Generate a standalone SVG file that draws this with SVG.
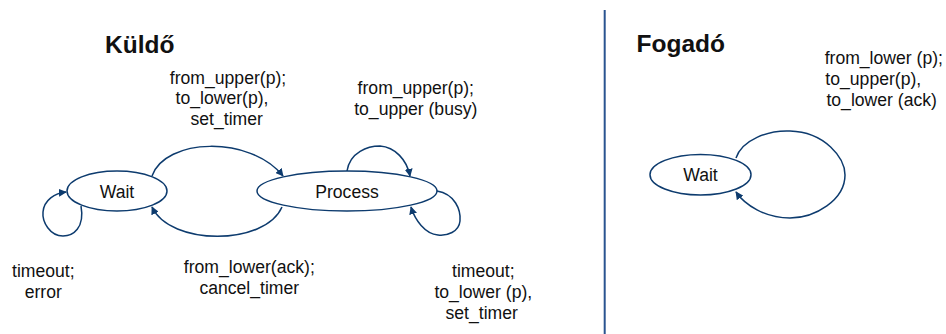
<svg xmlns="http://www.w3.org/2000/svg" width="946" height="334" viewBox="0 0 946 334">
<defs>
<style>
text{font-family:"Liberation Sans",Arial,sans-serif;fill:#111;}
.lbl{font-size:17.6px;text-anchor:middle;}
.title{font-size:24.5px;font-weight:bold;}
.node{fill:#fff;stroke:#0d3b6e;stroke-width:1.5;}
.edge{fill:none;stroke:#0d3b6e;stroke-width:1.5;marker-end:url(#ah);}
</style>
<marker id="ah" viewBox="0 0 10 10" refX="9" refY="5" markerWidth="8" markerHeight="8" markerUnits="userSpaceOnUse" orient="auto">
<path d="M0,0 L10,5 L0,10 z" fill="#0d3b6e"/>
</marker>
</defs>
<rect width="946" height="334" fill="#fff"/>
<line id="divider" x1="604.7" y1="10" x2="604.7" y2="334" stroke="#2a5490" stroke-width="2"/>
<text class="title" x="105" y="53">Küldő</text>
<text class="title" x="636.5" y="52">Fogadó</text>
<g id="connectors">
<path class="edge" d="M152,176 C165,138 250,135 283,176"/>
<path class="edge" d="M282,207 C265,246 170,246 152,207"/>
<path class="edge" d="M81,206 C85,228 73,236 63,236 C50,236 42,222 43,212 C44,200 55,193 66,192"/>
<path class="edge" d="M347,171 C350,152 368,146 380,146 C395,147 407,160 410,176"/>
<path class="edge" d="M437,191 C455,194 461,210 460,221 C459,232 447,236 438,235 C425,234 415,220 411,207"/>
<path class="edge" d="M736,158 C742,140 768,130 790,131 C825,132 845,158 845,175 C845,200 815,218 790,218 C765,218 745,205 736,192"/>
</g>
<g id="label-send">
<text class="lbl" x="228" y="83.5">from_upper(p);</text>
<text class="lbl" x="222" y="104.2">to_lower(p),</text>
<text class="lbl" x="226.7" y="124.9">set_timer</text>
</g>
<g id="label-busy">
<text class="lbl" x="415.8" y="94">from_upper(p);</text>
<text class="lbl" x="415.8" y="115">to_upper (busy)</text>
</g>
<g id="label-error">
<text class="lbl" x="43.3" y="277">timeout;</text>
<text class="lbl" x="43.3" y="298">error</text>
</g>
<g id="label-ack">
<text class="lbl" x="249.3" y="273">from_lower(ack);</text>
<text class="lbl" x="249.3" y="294">cancel_timer</text>
</g>
<g id="label-retx">
<text class="lbl" x="483.3" y="277">timeout;</text>
<text class="lbl" x="483.3" y="298">to_lower (p),</text>
<text class="lbl" x="481.7" y="319">set_timer</text>
</g>
<g id="label-recv">
<text class="lbl" x="883.8" y="64">from_lower (p);</text>
<text class="lbl" x="873.3" y="85">to_upper(p),</text>
<text class="lbl" x="881.7" y="106">to_lower (ack)</text>
</g>
<g id="node-wait">
<ellipse class="node" cx="117" cy="191" rx="50" ry="20"/>
<text class="lbl" x="117" y="197.5">Wait</text>
</g>
<g id="node-process">
<ellipse class="node" cx="347" cy="191" rx="90" ry="20"/>
<text class="lbl" x="347" y="197.5">Process</text>
</g>
<g id="node-recv-wait">
<ellipse class="node" cx="700.5" cy="174.7" rx="50.5" ry="20.3"/>
<text class="lbl" x="700.5" y="181">Wait</text>
</g>
</svg>
